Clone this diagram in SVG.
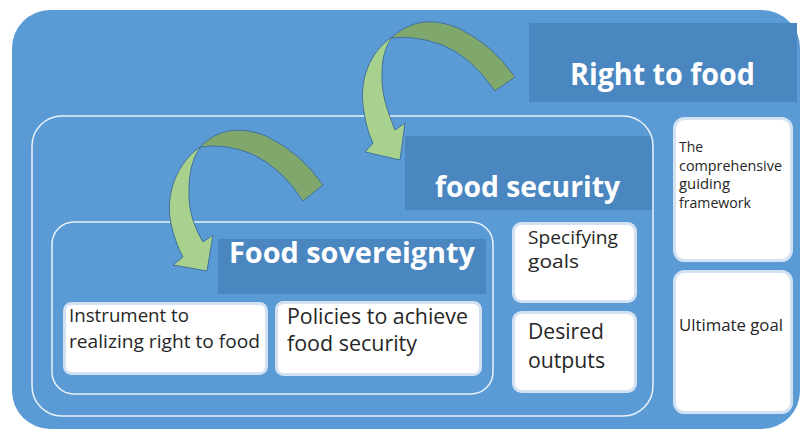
<svg xmlns="http://www.w3.org/2000/svg" width="801" height="431" viewBox="0 0 801 431">
<defs>
<style>
.bg{fill:#5B9BD5}
.band{fill:#4A86BF}
.frame{fill:none;stroke:#EAF2FA;stroke-width:1.5}
.card{fill:#FFFFFF;stroke:#D2E2F2;stroke-width:3}
.title{font-family:"Open Sans","Liberation Sans",sans-serif;font-weight:bold;fill:#FFFFFF}
.lbl{font-family:"Open Sans","Liberation Sans",sans-serif;fill:#262626}
.light{fill:#A9D18E;stroke:#41719C;stroke-width:1}
.dark{fill:#80A86C;stroke:#41719C;stroke-width:1}
</style>
</defs>
<rect class="bg" x="12" y="10" width="788" height="419" rx="38"/>

<g id="right-to-food">
<rect class="band" x="529" y="23" width="268" height="79"/>
<text class="title" x="570" y="85" font-size="30" textLength="185" lengthAdjust="spacingAndGlyphs">Right to food</text>
</g>

<g id="food-security">
<rect class="band" x="405" y="136" width="247" height="74"/>
<rect class="frame" x="32" y="116" width="621" height="300" rx="30"/>
<text class="title" x="435" y="197" font-size="28" textLength="185" lengthAdjust="spacingAndGlyphs">food security</text>
</g>

<g id="food-sovereignty">
<rect class="frame" x="52" y="222" width="441" height="172" rx="22"/>
<rect class="band" x="218" y="239" width="268" height="55"/>
<text class="title" x="229" y="263" font-size="28" textLength="246" lengthAdjust="spacingAndGlyphs">Food sovereignty</text>
</g>

<g id="instrument">
<rect class="card" x="64.5" y="303.5" width="202" height="70" rx="7"/>
<text class="lbl" font-size="18"><tspan x="69" y="322" textLength="120" lengthAdjust="spacingAndGlyphs">Instrument to</tspan><tspan x="69" y="348" textLength="191" lengthAdjust="spacingAndGlyphs">realizing right to food</tspan></text>
</g>

<g id="policies">
<rect class="card" x="276.5" y="302.5" width="204" height="72" rx="7"/>
<text class="lbl" font-size="21"><tspan x="287" y="324" textLength="181" lengthAdjust="spacingAndGlyphs">Policies to achieve</tspan><tspan x="287" y="351" textLength="130" lengthAdjust="spacingAndGlyphs">food security</tspan></text>
</g>

<g id="specifying">
<rect class="card" x="513.5" y="223.5" width="122" height="78" rx="8"/>
<text class="lbl" font-size="19"><tspan x="528" y="244" textLength="90" lengthAdjust="spacingAndGlyphs">Specifying</tspan><tspan x="528" y="268" textLength="51" lengthAdjust="spacingAndGlyphs">goals</tspan></text>
</g>

<g id="desired">
<rect class="card" x="513.5" y="312.5" width="122" height="79" rx="8"/>
<text class="lbl" font-size="22"><tspan x="528" y="339" textLength="76" lengthAdjust="spacingAndGlyphs">Desired</tspan><tspan x="528" y="368" textLength="77" lengthAdjust="spacingAndGlyphs">outputs</tspan></text>
</g>

<g id="framework">
<rect class="card" x="674.5" y="118.5" width="117" height="142" rx="10"/>
<text class="lbl" font-size="14"><tspan x="679" y="152" textLength="24" lengthAdjust="spacingAndGlyphs">The</tspan><tspan x="679" y="171" textLength="103" lengthAdjust="spacingAndGlyphs">comprehensive</tspan><tspan x="679" y="189" textLength="51" lengthAdjust="spacingAndGlyphs">guiding</tspan><tspan x="679" y="208" textLength="72" lengthAdjust="spacingAndGlyphs">framework</tspan></text>
</g>

<g id="ultimate-goal">
<rect class="card" x="674.5" y="271.5" width="117" height="141" rx="10"/>
<text class="lbl" font-size="16" x="679" y="331" textLength="104" lengthAdjust="spacingAndGlyphs">Ultimate goal</text>
</g>

<g id="connectors">
<path class="dark" d="M392,37 Q420,12 458,28 Q492,44 515,77 L495,91 Q470,55 440,44 Q412,35 392,38 Z"/>
<path class="light" d="M392,37 C370,52 358,80 364,112 C366,125 369,135 373,143 L365,152 L400,160 L405,123 L395,130 C388,112 381,95 382,72 C382,58 386,45 392,38 Z"/>
<path class="dark" d="M200,147 Q226,120 266,136 Q300,152 323,185 L303,201 Q282,168 252,154 Q224,143 200,147 Z"/>
<path class="light" d="M200,147 C178,162 163,195 172,228 C175,240 179,250 183,257 L173,265 L207,271 L213,235 L203,242 C195,228 188,212 189,190 C189,172 193,157 200,148 Z"/>
</g>
</svg>
